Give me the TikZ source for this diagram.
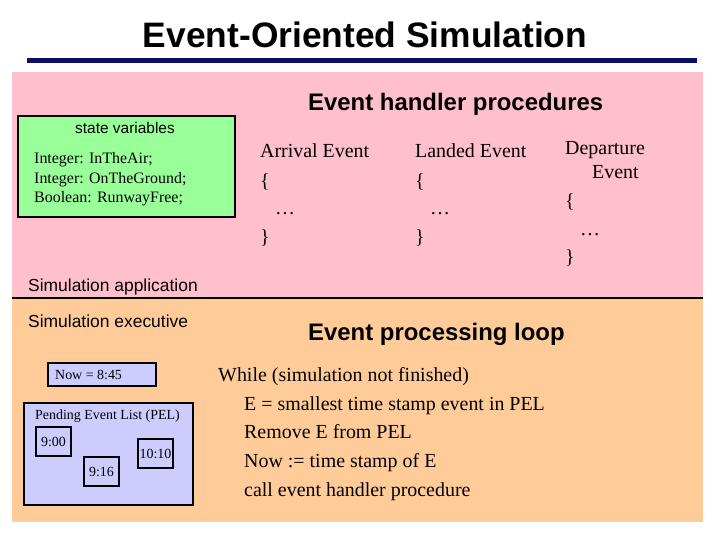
\documentclass[tikz,border=0pt]{standalone}
\usepackage{fontspec}
\setmainfont{Liberation Serif}
\setsansfont{Liberation Sans}

\definecolor{appPink}{RGB}{255,192,203}
\definecolor{execOrange}{RGB}{255,204,153}
\definecolor{stateGreen}{RGB}{153,255,153}
\definecolor{pelBlue}{RGB}{204,204,255}
\definecolor{titleNavy}{RGB}{12,12,105}

\tikzset{
  heading/.style={font=\sffamily\bfseries\fontsize{24}{28}\selectfont, anchor=base west, inner sep=0pt},
  sftext/.style={font=\sffamily\fontsize{17.5}{21}\selectfont, anchor=base west, inner sep=0pt},
  codeline/.style={font=\fontsize{20}{24}\selectfont, anchor=base west, inner sep=0pt},
  varline/.style={font=\fontsize{16}{19}\selectfont, anchor=base west, inner sep=0pt},
  smallline/.style={font=\fontsize{14}{16}\selectfont, anchor=base west, inner sep=0pt},
  panel/.style={draw, line width=1.8pt, anchor=north west, inner sep=0pt},
  timebox/.style={draw, line width=1.8pt, fill=pelBlue, minimum width=35bp, minimum height=29bp,
    inner sep=0pt, font=\fontsize{14}{16}\selectfont},
}

\begin{document}
\begin{tikzpicture}[x=1bp, y=-1bp]
  \useasboundingbox (0,0) rectangle (720,540);

  % title
  \node (title) [font=\sffamily\bfseries\fontsize{35.5}{40}\selectfont, anchor=base, inner sep=0pt]
    at (365,48) {Event-Oriented Simulation};
  \fill[titleNavy] (27,58) rectangle (697,63);

  % background areas
  \fill[appPink] (12,72) rectangle (703,298);
  \fill[execOrange] (12,298) rectangle (703,522);
  \draw[line width=1.7pt] (12,298) -- (703,298);

  % simulation application
  \node (handlers) [heading] at (308,111) {Event handler procedures};
  \node (state) [panel, fill=stateGreen, minimum width=217bp, minimum height=101bp] at (17,115) {};
  \node (statehead) [font=\sffamily\fontsize{15.5}{18}\selectfont, anchor=base, inner sep=0pt]
    at (125,134) {state variables};
  \node (var1) [varline] at (34,164) {Integer: InTheAir;};
  \node (var2) [varline] at (34,184) {Integer: OnTheGround;};
  \node (var3) [varline] at (34,203) {Boolean: RunwayFree;};
  \node (app) [sftext] at (28,291) {Simulation application};

  \node (arr1) [codeline] at (260,158) {Arrival Event};
  \node (arr2) [codeline] at (260,188) {\{};
  \node (arr3) [codeline] at (275,215) {…};
  \node (arr4) [codeline] at (260,244) {\}};

  \node (land1) [codeline] at (415,158) {Landed Event};
  \node (land2) [codeline] at (415,188) {\{};
  \node (land3) [codeline] at (430,215) {…};
  \node (land4) [codeline] at (415,244) {\}};

  \node (dep1) [codeline] at (565,155) {Departure};
  \node (dep2) [codeline] at (592,179) {Event};
  \node (dep3) [codeline] at (565,208) {\{};
  \node (dep4) [codeline] at (580,236) {…};
  \node (dep5) [codeline] at (565,264) {\}};

  % simulation executive
  \node (exec) [sftext] at (28,327) {Simulation executive};
  \node (now) [panel, fill=pelBlue, minimum width=108bp, minimum height=23bp] at (47,362) {};
  \node (nowtext) [smallline] at (55,379) {Now = 8:45};
  \node (pel) [panel, fill=pelBlue, minimum width=169bp, minimum height=102bp] at (23,402) {};
  \node (peltext) [smallline] at (35,419) {Pending Event List (PEL)};
  \node (t900) [timebox] at (53.5,441.5) {9:00};
  \node (t916) [timebox] at (101.5,471.5) {9:16};
  \node (t1010) [timebox] at (155.5,453.5) {10:10};

  % event processing loop
  \node (loop) [heading] at (308,340) {Event processing loop};
  \node (loop1) [codeline] at (218,381) {While (simulation not finished)};
  \node (loop2) [codeline] at (244,410) {E = smallest time stamp event in PEL};
  \node (loop3) [codeline] at (244,438) {Remove E from PEL};
  \node (loop4) [codeline] at (244,467) {Now := time stamp of E};
  \node (loop5) [codeline] at (244,496) {call event handler procedure};
\end{tikzpicture}
\end{document}
